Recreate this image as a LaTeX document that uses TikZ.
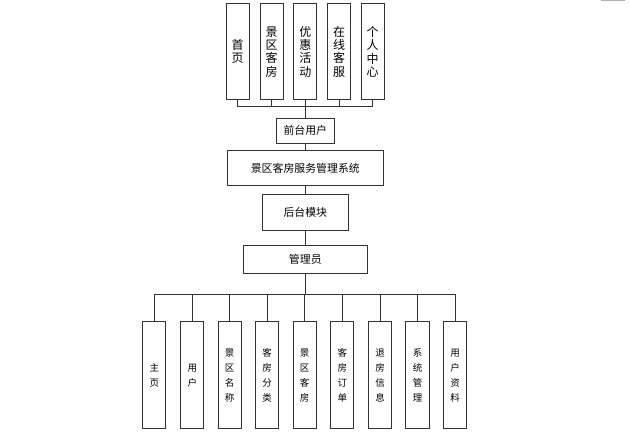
\documentclass[tikz,border=0pt]{standalone}
\usepackage{fontspec}
\newfontfamily\cjk{Noto Sans CJK SC}
\begin{document}
\begin{tikzpicture}[x=1pt,y=-1pt,
  box/.style={draw=black!80,line width=1pt,inner sep=0pt,align=center,font=\cjk},
  topbox/.style={box,minimum width=23pt,minimum height=96.5pt,font=\cjk\fontsize{12}{13.3}\selectfont},
  botbox/.style={box,minimum width=23.3pt,minimum height=107.3pt,font=\cjk\fontsize{9.5}{15}\selectfont},
  midbox/.style={box,font=\cjk\fontsize{10.9}{12}\selectfont},
  link/.style={draw=black!80,line width=1pt}]
\useasboundingbox (0,0) rectangle (629,442);
\draw[gray!60,line width=1pt] (601,0.5) -- (625,0.5);
% top
\node[topbox] (t1) at (237.6,51.7) {首\\页};
\node[topbox] (t2) at (271.5,51.7) {景\\区\\客\\房};
\node[topbox] (t3) at (305.3,51.7) {优\\惠\\活\\动};
\node[topbox] (t4) at (339,51.7) {在\\线\\客\\服};
\node[topbox] (t5) at (372.7,51.7) {个\\人\\中\\心};
\node[midbox,minimum width=58pt,minimum height=25pt] (front) at (305.3,130.5) {前台用户};
\node[midbox,minimum width=156pt,minimum height=35.7pt] (sys) at (305.3,168) {景区客房服务管理系统};
\node[midbox,minimum width=86pt,minimum height=35.7pt] (back) at (305.3,212.2) {后台模块};
\node[midbox,minimum width=124pt,minimum height=27.6pt] (admin) at (305.3,259.5) {管理员};
% bottom
\node[botbox] (b1) at (154.3,375.3) {主\\页};
\node[botbox] (b2) at (192.3,375.3) {用\\户};
\node[botbox] (b3) at (229.7,375.3) {景\\区\\名\\称};
\node[botbox] (b4) at (267.2,375.3) {客\\房\\分\\类};
\node[botbox] (b5) at (304.7,375.3) {景\\区\\客\\房};
\node[botbox] (b6) at (342.3,375.3) {客\\房\\订\\单};
\node[botbox] (b7) at (380,375.3) {退\\房\\信\\息};
\node[botbox] (b8) at (417.6,375.3) {系\\统\\管\\理};
\node[botbox] (b9) at (455,375.3) {用\\户\\资\\料};
\coordinate (tb) at (305.3,106.7);
\coordinate (bb) at (305.3,294);
\foreach \i in {1,...,5} \draw[link] (front.north) -- (front.north|-tb) -| (t\i.south);
\foreach \i in {1,...,9} \draw[link] (admin.south) -- (admin.south|-bb) -| (b\i.north);
\draw[link] (front.south) -- (sys.north);
\draw[link] (sys.south) -- (back.north);
\draw[link] (back.south) -- (admin.north);
\end{tikzpicture}
\end{document}
